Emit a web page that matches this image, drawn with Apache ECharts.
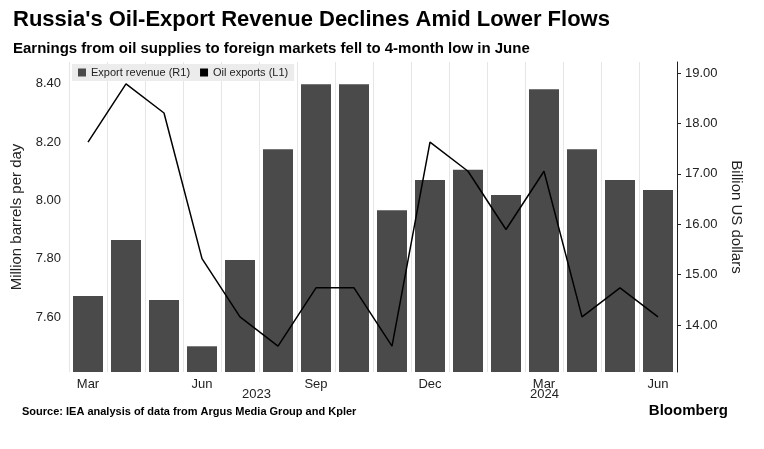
<!DOCTYPE html>
<html><head><meta charset="utf-8">
<script src="https://cdn.jsdelivr.net/npm/echarts@6/dist/echarts.min.js"></script>
<style>body{margin:0;background:#fff}#c{width:764px;height:449px}</style>
</head><body><div id="c"></div>
<script>
// data
const months = ['Mar','Apr','May','Jun','Jul','Aug','Sep','Oct','Nov','Dec','Jan','Feb','Mar','Apr','May','Jun'];
const revenue = [14.58,15.69,14.50,13.58,15.29,17.49,18.78,18.78,16.28,16.88,17.08,16.58,18.68,17.49,16.88,16.68];
const exportsMb = [8.20,8.40,8.30,7.80,7.60,7.50,7.70,7.70,7.50,8.20,8.10,7.90,8.10,7.60,7.70,7.60];
const leftTicks = [7.6,7.8,8.0,8.2,8.4];
const rightTicks = [14,15,16,17,18,19];
const shownMonths = [0,3,6,9,12,15];

const chart = echarts.init(document.getElementById('c'));
const font = 'Liberation Sans, Arial, sans-serif';
chart.setOption({
  animation: false,
  textStyle: {fontFamily: font},
  title: [{
    text: "Russia's Oil-Export Revenue Declines Amid Lower Flows",
    left: 8, top: 4,
    textStyle: {fontSize: 22, fontWeight: 'bold', color: '#000'}
  }, {
    text: 'Earnings from oil supplies to foreign markets fell to 4-month low in June',
    left: 8, top: 36,
    textStyle: {fontSize: 15, fontWeight: 'bold', color: '#000'}
  }],
  grid: {left: 69, right: 87, top: 62, bottom: 77},
  legend: {
    left: 72, top: 64, itemWidth: 8, itemHeight: 8, itemGap: 10,
    backgroundColor: '#ececec', padding: [3, 6],
    textStyle: {fontSize: 11, color: '#222'},
    data: [{name: 'Export revenue (R1)', icon: 'rect'}, {name: 'Oil exports (L1)', icon: 'rect'}]
  },
  xAxis: {
    type: 'category', data: months,
    axisLine: {show: false}, axisTick: {show: false},
    splitLine: {show: true, interval: 0, lineStyle: {color: '#e6e6e6'}},
    axisLabel: {
      interval: (i) => shownMonths.includes(i),
      fontSize: 13, color: '#222', margin: 6
    }
  },
  yAxis: [{
    type: 'value', position: 'left', min: 7.411, max: 8.475,
    name: 'Million barrels per day', nameLocation: 'middle', nameGap: 44,
    nameTextStyle: {fontSize: 15, color: '#222'},
    splitLine: {show: false}, axisLine: {show: false}, axisTick: {show: false},
    axisLabel: {customValues: leftTicks, formatter: v => v.toFixed(2), fontSize: 13, color: '#222'}
  }, {
    type: 'value', position: 'right', min: 13.07, max: 19.22,
    name: 'Billion US dollars', nameLocation: 'middle', nameGap: 50, nameRotate: -90,
    nameTextStyle: {fontSize: 15, color: '#222'},
    splitLine: {show: false},
    axisLine: {show: true, lineStyle: {color: '#222'}},
    axisTick: {show: true, customValues: rightTicks, length: 4, lineStyle: {color: '#222'}},
    axisLabel: {customValues: rightTicks, formatter: v => v.toFixed(2), fontSize: 13, color: '#222'}
  }],
  series: [{
    name: 'Export revenue (R1)', type: 'bar', yAxisIndex: 1, data: revenue,
    barWidth: 30, itemStyle: {color: '#4a4a4a'}
  }, {
    name: 'Oil exports (L1)', type: 'line', yAxisIndex: 0, data: exportsMb,
    showSymbol: false, lineStyle: {color: '#000', width: 1.5}, itemStyle: {color: '#000'}
  }],
  graphic: [
    {type: 'text', left: 242, top: 388, style: {text: '2023', fontSize: 13, fill: '#222', fontFamily: font}},
    {type: 'text', left: 530, top: 388, style: {text: '2024', fontSize: 13, fill: '#222', fontFamily: font}},
    {type: 'text', left: 22, top: 406, style: {text: 'Source: IEA analysis of data from Argus Media Group and Kpler', fontSize: 11, fontWeight: 'bold', fill: '#000', fontFamily: font}},
    {type: 'text', right: 36, top: 403, style: {text: 'Bloomberg', fontSize: 15, fontWeight: 'bold', fill: '#000', fontFamily: font}}
  ]
});
</script></body></html>
